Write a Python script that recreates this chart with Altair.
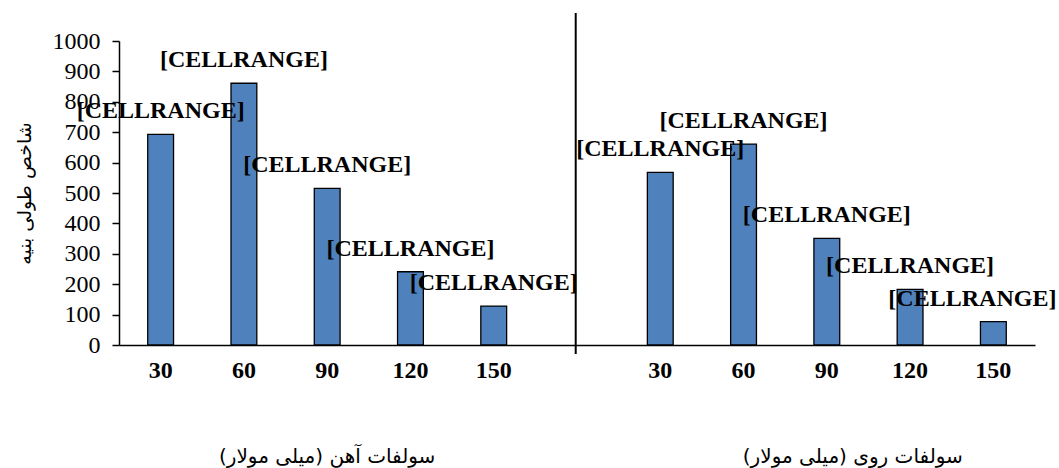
import altair as alt
import pandas as pd

# Seedling vigour index under two sulfate treatments
groups = ["Fe", "Fe", "Fe", "Fe", "Fe", "Zn", "Zn", "Zn", "Zn", "Zn"]
concentrations = ["30", "60", "90", "120", "150", "30", "60", "90", "120", "150"]
vigour = [693, 861, 515, 241, 128, 568, 661, 351, 183, 77]
point_labels = ["[CELLRANGE]"] * 10

group_titles = ["سولفات آهن (میلی مولار)", "سولفات روی (میلی مولار)"]
y_title = "شاخص طولی بنیه"
y_ticks = [0, 100, 200, 300, 400, 500, 600, 700, 800, 900, 1000]

keys = [f"{g}-{c}" for g, c in zip(groups, concentrations)]
slot_order = keys[:5] + ["gap"] + keys[5:]

df = pd.DataFrame({"key": keys, "group": groups, "conc": concentrations,
                   "value": vigour, "label": point_labels})

serif = "Liberation Serif"
arabic = "DejaVu Sans"

x_scale = alt.Scale(domain=slot_order, paddingInner=0.69, paddingOuter=0.345)
y_scale = alt.Scale(domain=[0, 1000])

x_axis = alt.Axis(title=None, ticks=False, labelAngle=0,
                  labelExpr="indexof(datum.value, '-') > 0 ? split(datum.value, '-')[1] : ''",
                  labelFont=serif, labelFontSize=24, labelFontWeight="bold",
                  labelColor="black", labelPadding=13,
                  domainColor="black", domainWidth=1.5)

y_axis = alt.Axis(title=y_title, values=y_ticks, format="d", grid=False,
                  labelOverlap=False, labelFlush=False,
                  tickSize=7, tickColor="black", tickWidth=1.5,
                  domainColor="black", domainWidth=1.5,
                  labelFont=serif, labelFontSize=24, labelFontWeight="normal",
                  labelColor="black", labelPadding=12,
                  titleFont=arabic, titleFontSize=19, titleFontWeight="normal",
                  titleColor="black", titlePadding=18)


def x_enc(**kw):
    return alt.X("key:N", scale=x_scale, sort=slot_order, axis=x_axis, **kw)


def y_enc():
    return alt.Y("value:Q", scale=y_scale, axis=y_axis)


bars = alt.Chart(df).mark_bar(color="#4F81BD", stroke="black", strokeWidth=1.3).encode(
    x=x_enc(), y=y_enc())

label_base = alt.Chart(df).encode(x=x_enc(), y=y_enc(), text="label:N")
labels = label_base.transform_filter("datum.key != 'Zn-150'").mark_text(
    font=serif, fontSize=24, fontWeight="bold", color="black",
    baseline="alphabetic", dy=-16)
last_label = label_base.transform_filter("datum.key == 'Zn-150'").mark_text(
    font=serif, fontSize=24, fontWeight="bold", color="black",
    baseline="alphabetic", dy=-16, dx=-21)

divider = alt.Chart(pd.DataFrame({"key": ["gap"]})).mark_rule(
    color="black", strokeWidth=2).encode(
    x=x_enc(bandPosition=0.45),
    y=alt.value(-28), y2=alt.value(313))

titles_df = pd.DataFrame({"key": ["Fe-90", "Zn-90"], "title": group_titles})
title_fe = alt.Chart(titles_df).transform_filter("datum.key == 'Fe-90'").mark_text(
    font=arabic, fontSize=20, color="black", baseline="middle").encode(
    x=x_enc(), y=alt.value(416), text="title:N")
title_zn = alt.Chart(titles_df).transform_filter("datum.key == 'Zn-90'").mark_text(
    font=arabic, fontSize=20, color="black", baseline="middle", dx=26).encode(
    x=x_enc(), y=alt.value(416), text="title:N")

chart = alt.layer(bars, divider, labels, last_label, title_fe, title_zn).properties(
    width=916, height=304,
    autosize=alt.AutoSizeParams(type="none"),
    padding={"left": 119, "top": 41, "right": 24, "bottom": 123},
    background="white",
).configure_view(stroke=None)

chart.save("out.html", embed_options={"renderer": "svg", "actions": False})
